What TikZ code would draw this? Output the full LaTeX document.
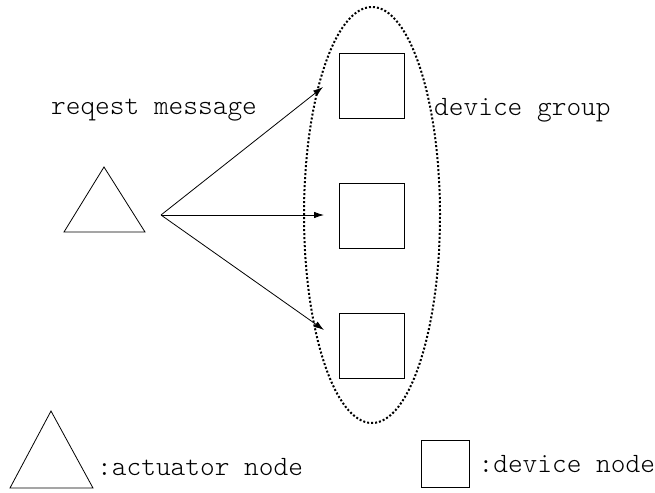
\documentclass[tikz,border=0pt]{standalone}
\usepackage{fontspec}
\setmonofont{Latin Modern Mono Light}
\usetikzlibrary{shapes.geometric, arrows.meta, positioning}

\tikzset{
  device/.style={draw, line width=0.8pt, minimum size=65pt, inner sep=0pt},
  legend device/.style={draw, line width=0.8pt, minimum width=48pt, minimum height=47pt, inner sep=0pt},
  caption/.style={font=\ttfamily\fontsize{28}{32}\selectfont, inner sep=0pt},
  group/.style={draw, ellipse, line width=2pt, dash pattern=on 2pt off 2pt,
    minimum width=136pt, minimum height=416pt, inner sep=0pt},
  msg/.style={-{Latex[length=10pt,width=6.5pt]}, line width=0.8pt},
}

\begin{document}
\begin{tikzpicture}[x=1pt, y=-1pt]
\useasboundingbox (0,0) rectangle (655,492);
        % Draw the device group
        \node[group] at (372, 215)       (grp)    {};
        \node[device] at (372, 86)       (dev1)   {};
        \node[device] at (372, 216)      (dev2)   {};
        \node[device] at (372, 346)      (dev3)   {};
        % Draw the actuator
        \coordinate (act1) at (64, 232);
        \coordinate (act2) at (145, 232);
        \coordinate (act3) at (104, 167);
        \draw[line width=0.8pt] (act1) -- (act2) -- (act3) -- cycle;
        % Labels
        \node[caption] at (154, 110)     (msglbl) {reqest message};
        \node[caption, anchor=west] at (434, 110) (grplbl) {device group};

        % Connect the actuator with the devices
        \coordinate (src)  at (161, 215);
        \coordinate (hit1) at (323, 87);
        \coordinate (hit2) at (324, 215);
        \coordinate (hit3) at (324, 330);
\draw[msg]  (src) -- (hit1);
\draw[msg]  (src) -- (hit2);
\draw[msg]  (src) -- (hit3);

        % Legend
        \coordinate (leg1) at (10, 488);
        \coordinate (leg2) at (93, 488);
        \coordinate (leg3) at (51, 411);
        \draw[line width=0.8pt] (leg1) -- (leg2) -- (leg3) -- cycle;
        \node[caption, anchor=west] at (97, 467)  (actlbl) {:actuator node};
        \node[legend device] at (445, 464)        (legdev) {};
        \node[caption, right=9pt of legdev]       (devlbl) {:device node};
\end{tikzpicture}
\end{document}
